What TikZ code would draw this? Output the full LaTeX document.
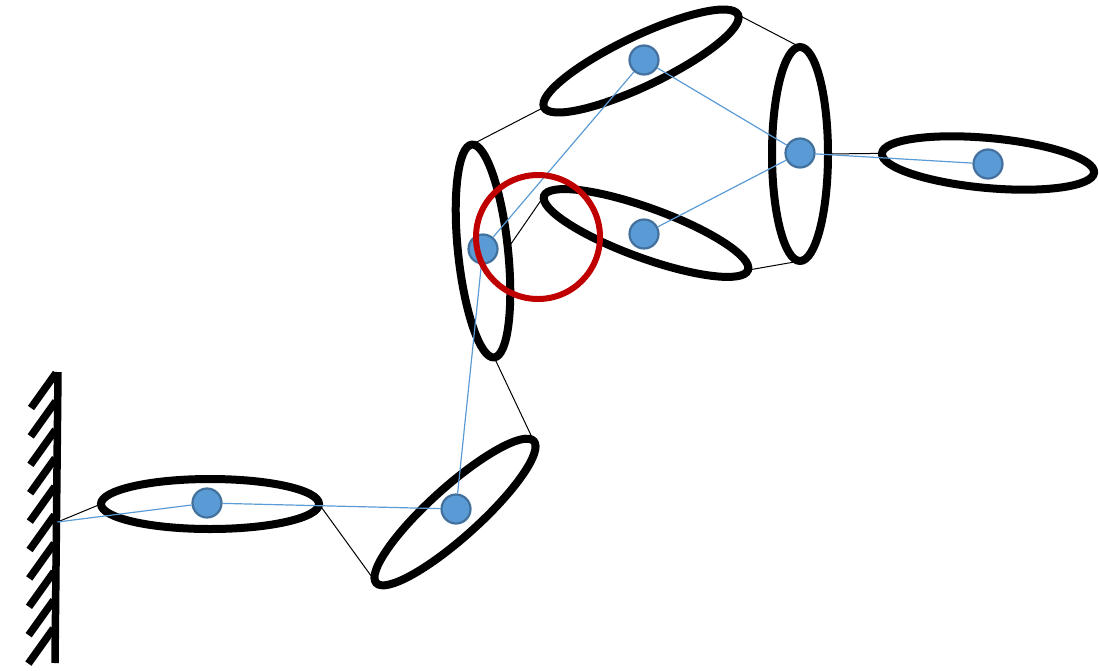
\documentclass[tikz,border=0pt]{standalone}
\usetikzlibrary{shapes.geometric}
\definecolor{dotfill}{HTML}{5B9BD5}
\definecolor{dotedge}{HTML}{41719C}
\definecolor{markred}{HTML}{C00000}
\begin{document}
\begin{tikzpicture}[x=1pt,y=-1pt,
  link/.style={ellipse, draw=black, line width=8pt, minimum width=215pt, minimum height=50pt, inner sep=0pt, outer sep=0pt},
  joint/.style={circle, fill=dotfill, draw=dotedge, line width=2.2pt, minimum size=29pt, inner sep=0pt},
  rod/.style={black, line width=1pt},
  axisline/.style={dotfill, line width=1.2pt},
  wallline/.style={black, line width=7.5pt}]
\useasboundingbox (0,0) rectangle (1099,670);
% wall
\coordinate (wt) at (58,372);
\coordinate (wb) at (55,663);
\coordinate (w) at (57.5,522);
\foreach \i in {0,...,9} {
  \pgfmathsetmacro\yy{373+28.4*\i}
  \pgfmathsetmacro\xx{56-3*28.4*\i/291}
  \draw[wallline] (\xx,\yy) -- ++(-25,35);
}
\draw[wallline] (wt) -- (wb);
% links
\node[link, minimum width=218pt] (e1) at (210,504) {};
\node[link, minimum width=212pt, rotate=42] (e2) at (455,512) {};
\node[link, minimum width=50pt, minimum height=214pt, rotate=6] (e3) at (483,251) {};
\node[link, rotate=25.5] (e4) at (641,61) {};
\node[link, minimum width=217pt, rotate=-20] (e5) at (646,233) {};
\node[link, minimum width=56pt, minimum height=214pt] (e6) at (800,154) {};
\node[link, minimum width=213pt, rotate=-5.2] (e7) at (988,163) {};
% joints
\node[joint] (d1) at (207,503) {};
\node[joint] (d2) at (456,509) {};
\node[joint] (d3) at (483,249) {};
\node[joint] (d4) at (644,60) {};
\node[joint] (d5) at (644,234) {};
\node[joint] (d6) at (800,153) {};
\node[joint] (d7) at (988,164) {};
% rods
\draw[rod] (w) -- (e1.west);
\draw[rod] (e1.east) -- (e2.west);
\draw[rod] (e2.east) -- (e3.south);
\draw[rod] (e3.north) -- (e4.west);
\draw[rod] (e3.east) -- (e5.west);
\draw[rod] (e4.east) -- (e6.north);
\draw[rod] (e5.east) -- (e6.south);
\draw[rod] (e6.east) -- (e7.west);
% axes
\draw[axisline] (w) -- (d1);
\draw[axisline] (d1) -- (d2);
\draw[axisline] (d2) -- (d3);
\draw[axisline] (d3) -- (d4);
\draw[axisline] (d4) -- (d6);
\draw[axisline] (d5) -- (d6);
\draw[axisline] (d6) -- (d7);
% highlight
\node[circle, draw=markred, line width=6pt, minimum size=124pt, inner sep=0pt] (mark) at (538,237) {};
\end{tikzpicture}
\end{document}
